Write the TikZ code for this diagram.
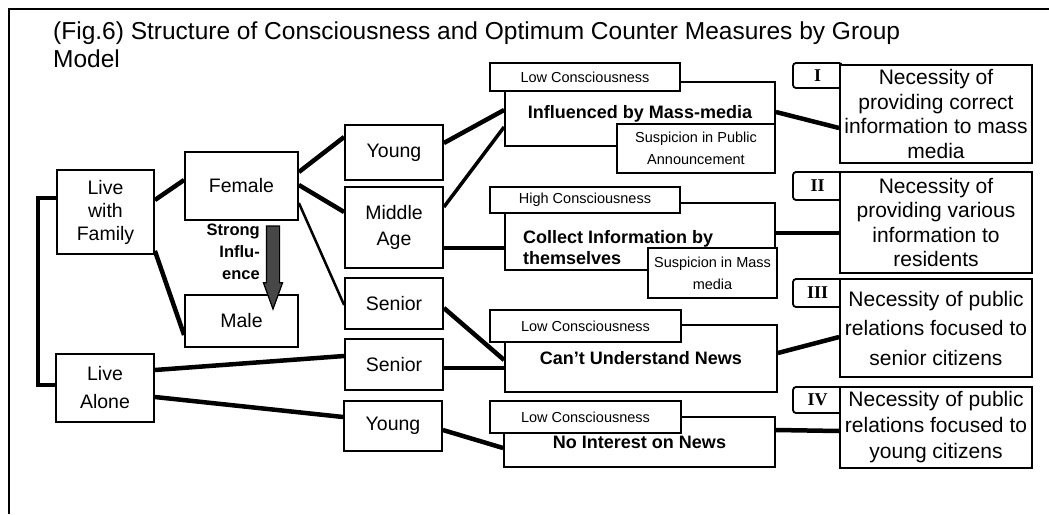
\documentclass[tikz,border=0pt]{standalone}
\usepackage{fontspec}
\setmainfont{Liberation Sans}
\newfontfamily\numfont{Liberation Serif}
\definecolor{arrowgray}{HTML}{474747}
\newcommand{\titlefont}{\fontsize{24.5}{28}\selectfont}
\newcommand{\grpfont}{\fontsize{19.5}{23}\selectfont}
\newcommand{\needfont}{\fontsize{21}{24.5}\selectfont}
\newcommand{\tagfont}{\fontsize{14.5}{22}\selectfont}
\newcommand{\statefont}{\fontsize{18}{21}\selectfont\bfseries}
\usetikzlibrary{shapes,arrows,positioning,calc}

\begin{document}
\begin{tikzpicture}[x=1pt,y=-1pt,
  box/.style={draw, line width=1.8pt, fill=white, inner sep=0pt, align=center},
  conn/.style={line width=4.5pt},
  numbox/.style={box, rounded corners=3pt, font=\numfont\bfseries\fontsize{18}{20}\selectfont}]
\useasboundingbox (0,0) rectangle (1049,514);
\draw[line width=2pt] (8.5,514) -- (8.5,8.5) -- (1049,8.5);
\node[anchor=north west, align=left, inner sep=0pt, font=\titlefont] (title) at (53,22)
  {(Fig.6) Structure of Consciousness and Optimum Counter Measures by Group\\Model};

% groups
\node[box, minimum width=97, minimum height=84, font=\grpfont] (lwf) at (105.5,212) {Live\\with\\Family};
\node[box, minimum width=98, minimum height=68, font=\grpfont] (lalone) at (105,388) {Live\\[5pt]Alone};
\node[box, minimum width=113, minimum height=68, font=\grpfont] (female) at (241.5,186) {Female};
\node[box, minimum width=113, minimum height=52, font=\grpfont] (male) at (241.5,321) {Male};
\node[box, minimum width=98, minimum height=55, font=\grpfont] (young1) at (394,152.5) {Young};
\node[box, minimum width=98, minimum height=81, font=\grpfont] (midage) at (394,227.5) {Middle\\[3pt]Age};
\node[box, minimum width=98, minimum height=51, font=\grpfont] (senior1) at (394,303.5) {Senior};
\node[box, minimum width=98, minimum height=51, font=\grpfont] (senior2) at (394,364.5) {Senior};
\node[box, minimum width=98, minimum height=50, font=\grpfont] (young2) at (393,426) {Young};

% strong influence
\node[anchor=east, align=right, inner sep=0pt, font=\fontsize{16.5}{22}\selectfont\bfseries] (inftxt) at (260,252) {Strong\\Influ-\\ence};
\node[single arrow, draw, line width=1.2pt, fill=arrowgray, minimum width=18, minimum height=83,
  single arrow head extend=3, single arrow tip angle=40, inner xsep=0pt, inner ysep=6pt, rotate=-90]
  (infarrow) at ($(female.south)!0.5!(male.north)+(31.5,1)$) {};

% states
\node[box, minimum width=270, minimum height=64, font=\statefont] (infl) at (640,114) {Influenced by Mass-media};
\node[box, minimum width=190, minimum height=28, font=\tagfont] (lowc1) at (585,77) {Low Consciousness};
\node[box, minimum width=158, minimum height=49, font=\tagfont] (susp1) at (696,148.5) {Suspicion in Public\\Announcement};
\node[box, minimum width=270, minimum height=67] (collect) at (640,236.5) {};
\node[anchor=west, align=left, inner sep=0pt, font=\statefont] (colltxt) at (523,247.5) {Collect Information by\\themselves};
\node[box, minimum width=190, minimum height=26, font=\tagfont] (highc) at (585,200) {High Consciousness};
\node[box, minimum width=129, minimum height=50, font=\tagfont] (susp2) at (712.5,273) {Suspicion in Mass\\media};
\node[box, minimum width=272, minimum height=67, font=\statefont] (cant) at (641,358.5) {Can't Understand News};
\node[box, minimum width=191, minimum height=32, font=\tagfont] (lowc3) at (585.5,326) {Low Consciousness};
\node[box, minimum width=271, minimum height=50, font=\statefont] (nonews) at (639.5,442) {No Interest on News};
\node[box, minimum width=191, minimum height=32, font=\tagfont] (lowc4) at (585.5,417) {Low Consciousness};

% measures
\node[numbox, minimum width=49, minimum height=25] (r1) at (817.5,75.5) {I};
\node[numbox, minimum width=49, minimum height=28] (r2) at (817.5,186) {II};
\node[numbox, minimum width=49, minimum height=28] (r3) at (817.5,293) {III};
\node[numbox, minimum width=49, minimum height=26] (r4) at (817.5,400) {IV};
\node[box, minimum width=192, minimum height=98, font=\needfont] (m1) at (936,114)
  {Necessity of\\providing correct\\information to mass\\media};
\node[box, minimum width=192, minimum height=101, font=\needfont] (m2) at (936,222.5)
  {Necessity of\\providing various\\information to\\residents};
\node[box, minimum width=192, minimum height=98, font=\needfont] (m3) at (936,328)
  {Necessity of public\\[5pt]relations focused to\\[5pt]senior citizens};
\node[box, minimum width=192, minimum height=81, font=\needfont] (m4) at (936,427.5)
  {Necessity of public\\[1.5pt]relations focused to\\[1.5pt]young citizens};

% connectors
\draw[conn] ([yshift=14]lwf.west) -- ++(-18,0) |- ([yshift=3]lalone.west);
\draw[conn] ([yshift=12]lwf.east) -- ([yshift=6]female.west);
\draw[conn] ([yshift=4]lwf.south east) -- ([yshift=-14]male.west);
\draw[conn] ([yshift=14]female.east) -- ([yshift=15.5]young1.west);
\draw[conn] ([yshift=1]female.east) -- ([yshift=15.5]midage.west);
\draw[line width=2.5pt] ([yshift=-17]female.east) -- ([yshift=-1.5]senior1.west);
\draw[conn] ([yshift=18]lalone.east) -- ([yshift=8.5]senior2.west);
\draw[conn] ([yshift=-9]lalone.east) -- ([yshift=9]young2.west);
\draw[conn] ([yshift=9.5]young1.east) -- ([yshift=4]infl.west);
\draw[line width=3.5pt] ([yshift=20.5]midage.east) -- ([yshift=-13]infl.west);
\draw[conn] ([yshift=-20.5]midage.east) -- ([yshift=-11.5]collect.west);
\draw[conn] ([yshift=-4.5]senior1.east) -- ([yshift=-1.5]cant.west);
\draw[conn] ([yshift=-3.5]senior2.east) -- ([yshift=-9.5]cant.west);
\draw[conn] ([yshift=-4]young2.east) -- ([yshift=-6]nonews.west);
\draw[conn] ([yshift=2]infl.east) -- ([yshift=-14]m1.west);
\draw[conn] ([yshift=3.5]collect.east) -- ([yshift=-10.5]m2.west);
\draw[conn] ([yshift=5.5]cant.east) -- ([yshift=-9]m3.west);
\draw[conn] ([yshift=12]nonews.east) -- ([yshift=-3.5]m4.west);
\end{tikzpicture}
\end{document}
